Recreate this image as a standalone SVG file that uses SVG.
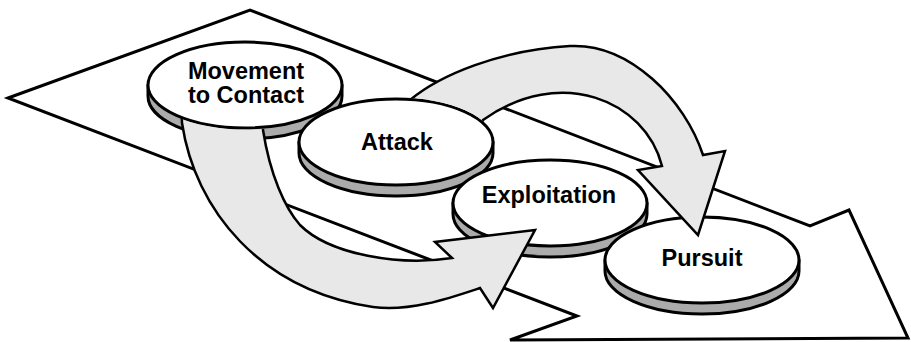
<svg xmlns="http://www.w3.org/2000/svg" width="911" height="342" viewBox="0 0 911 342">
<style>
.ground{fill:#fff;stroke:#000;stroke-width:3;stroke-linejoin:miter}
.side{fill:#ababab;stroke:#000;stroke-width:3;stroke-linejoin:round}
.top{fill:#fff;stroke:#000;stroke-width:3}
.lbl{font-family:"Liberation Sans",Arial,Helvetica,sans-serif;font-weight:bold;font-size:23.5px;fill:#000;text-anchor:middle}
.arrow{fill:#e8e8e8;stroke:#000;stroke-width:2.5;stroke-linejoin:miter}
</style>
<defs>
<mask id="mMove" maskUnits="userSpaceOnUse" x="0" y="0" width="911" height="342">
<rect x="0" y="0" width="911" height="342" fill="#fff"/>
<ellipse cx="245" cy="85" rx="98.5" ry="44.5" fill="#000"/>
</mask>
<mask id="mAttack" maskUnits="userSpaceOnUse" x="0" y="0" width="911" height="342">
<rect x="0" y="0" width="911" height="342" fill="#fff"/>
<ellipse cx="396" cy="142" rx="98.5" ry="44.5" fill="#000"/>
</mask>
</defs>
<g id="ground">
<polygon class="ground" points="8,98 250,10 810,226 849,210 908,338 510,340 577,316"/>
</g>
<g id="movement">
<path class="side" d="M148,85 L148,96 A97 43 0 0 0 342,96 L342,85 Z"/>
<ellipse class="top" cx="245" cy="85" rx="97" ry="43"/>
<text class="lbl" x="246" y="79"><tspan x="246" y="79">Movement</tspan><tspan x="246" y="103">to Contact</tspan></text>
</g>
<g id="attack">
<path class="side" d="M299,142 L299,153 A97 43 0 0 0 493,153 L493,142 Z"/>
<ellipse class="top" cx="396" cy="142" rx="97" ry="43"/>
<text class="lbl" x="397" y="150">Attack</text>
</g>
<g id="exploitation">
<path class="side" d="M453,203 L453,214 A97 43 0 0 0 647,214 L647,203 Z"/>
<ellipse class="top" cx="550" cy="203" rx="97" ry="43"/>
<text class="lbl" x="549" y="203">Exploitation</text>
</g>
<g id="pursuit">
<path class="side" d="M605,260 L605,271 A97 43 0 0 0 799,271 L799,260 Z"/>
<ellipse class="top" cx="702" cy="260" rx="97" ry="43"/>
<text class="lbl" x="702" y="266">Pursuit</text>
</g>
<g id="connectors">
<path id="arrowMoveToExploit" class="arrow" mask="url(#mMove)" d="M181,100 L182,123 C195,210 260,290 373,307 C410,312 450,298 480,288 L493,308 L535,230 L435,242 L452,258 C400,266 330,255 300,225 C285,208 270,175 263,130 L263,100 Z"/>
<path id="arrowAttackToPursuit" class="arrow" mask="url(#mAttack)" d="M412,118 L410,100 C440,75 500,50 570,46 C630,43 685,100 703,155 L725,151 L698,235 L638,170 L662,166 C645,100 560,65 483,120 L480,132 Z"/>
</g>
</svg>
